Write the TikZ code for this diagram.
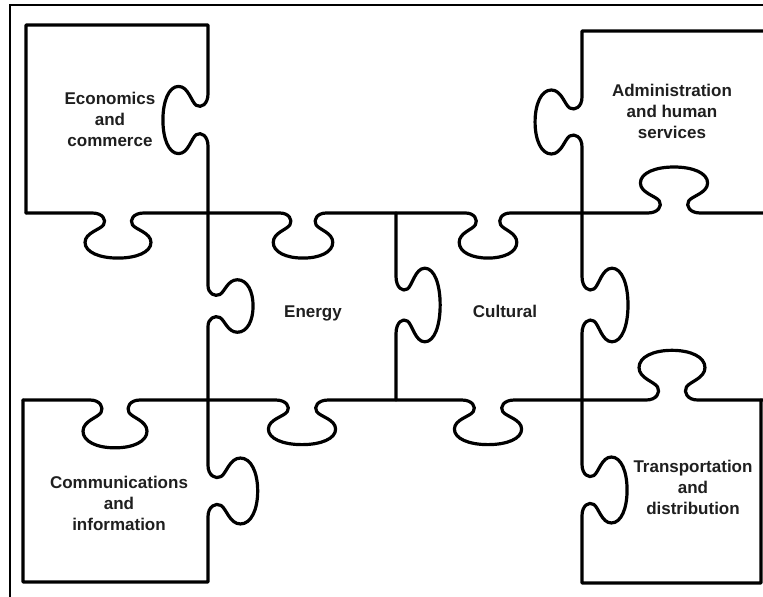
\documentclass[tikz,border=0pt]{standalone}
\usepackage{fontspec}
\setmainfont{Liberation Sans}
\newcommand\hk[5]{%
 -- ({#1-25*#4},{#2})
 .. controls ({#1-15*#4},{#2}) and ({#1-11*#4},{#2+7*#3*#5}) .. ({#1-14*#4},{#2+12*#3*#5})
 .. controls ({#1-17*#4},{#2+17*#3*#5}) and ({#1-32*#4},{#2+20*#3*#5}) .. ({#1-32*#4},{#2+30*#3*#5})
 .. controls ({#1-32*#4},{#2+40*#3*#5}) and ({#1-18*#4},{#2+46*#3*#5}) .. ({#1},{#2+46*#3*#5})
 .. controls ({#1+18*#4},{#2+46*#3*#5}) and ({#1+32*#4},{#2+40*#3*#5}) .. ({#1+32*#4},{#2+30*#3*#5})
 .. controls ({#1+32*#4},{#2+20*#3*#5}) and ({#1+17*#4},{#2+17*#3*#5}) .. ({#1+14*#4},{#2+12*#3*#5})
 .. controls ({#1+11*#4},{#2+7*#3*#5}) and ({#1+15*#4},{#2}) .. ({#1+25*#4},{#2})
}
\newcommand\vk[5]{%
 -- ({#1},{#2-25*#4})
 .. controls ({#1},{#2-15*#4}) and ({#1+7*#3*#5},{#2-11*#4}) .. ({#1+12*#3*#5},{#2-14*#4})
 .. controls ({#1+17*#3*#5},{#2-17*#4}) and ({#1+20*#3*#5},{#2-32*#4}) .. ({#1+30*#3*#5},{#2-32*#4})
 .. controls ({#1+40*#3*#5},{#2-32*#4}) and ({#1+46*#3*#5},{#2-18*#4}) .. ({#1+46*#3*#5},{#2})
 .. controls ({#1+46*#3*#5},{#2+18*#4}) and ({#1+40*#3*#5},{#2+32*#4}) .. ({#1+30*#3*#5},{#2+32*#4})
 .. controls ({#1+20*#3*#5},{#2+32*#4}) and ({#1+17*#3*#5},{#2+17*#4}) .. ({#1+12*#3*#5},{#2+14*#4})
 .. controls ({#1+7*#3*#5},{#2+11*#4}) and ({#1},{#2+15*#4}) .. ({#1},{#2+25*#4})
}
\begin{document}
\begin{tikzpicture}[x=1pt,y=-1pt,
  piece/.style={line width=3.2pt,line cap=round,line join=round,black},
  frameline/.style={line width=1.6pt},
  lbl/.style={font=\fontsize{17}{21}\selectfont\bfseries,text=black!88,align=center,inner sep=0pt}]
\fill[white] (0,0) rectangle (763,597);
\useasboundingbox (0,0) rectangle (763,597);
% outer frame (cropped at right and bottom)
\draw[frameline] (10,597) -- (10,5) -- (763,5);
% left column: economics outline + vertical line x1 + communications outline
\draw[piece] (26,213) -- (26,25) -- (208,25)
  \vk{208}{120}{-1}{1.05}{0.98}
  \vk{208}{306}{1}{0.82}{0.98}
  \vk{208}{491}{1}{1.03}{1.08}
  -- (208,582) -- (23,582) -- (23,400);
% horizontal line y1
\draw[piece] (26,213)
  \hk{118}{213}{1}{1.03}{0.98}
  \hk{303}{213}{1}{0.93}{0.98}
  \hk{488}{213}{1}{0.9}{0.98}
  \hk{674}{213}{-1}{1.05}{1}
  -- (763,213);
% horizontal line y2
\draw[piece] (23,400)
  \hk{115}{400}{1}{1}{1.04}
  \hk{302}{400}{1}{1.05}{0.97}
  \hk{488}{400}{1}{1.05}{0.97}
  \hk{672}{400}{-1}{1.03}{1.08}
  -- (763,400);
% vertical line x2
\draw[piece] (396,213) \vk{396}{305}{1}{1.15}{0.96} -- (396,400);
% right column: administration outline + vertical line x3 + transportation outline
\draw[piece] (763,31) -- (582,31)
  \vk{582}{122}{-1}{1}{1.02}
  \vk{582}{305}{1}{1.15}{1}
  \vk{582}{490}{1}{1.03}{0.98}
  -- (582,583) -- (761,583) -- (761,400);
% labels
\node[lbl] (econ) at (110,119) {Economics\\and\\commerce};
\node[lbl] (admin) at (672,111) {Administration\\and human\\services};
\node[lbl,anchor=base] (energy) at (313,317) {Energy};
\node[lbl,anchor=base] (cultural) at (505,317) {Cultural};
\node[lbl] (comms) at (119,503) {Communications\\and\\information};
\node[lbl] (transport) at (693,487) {Transportation\\and\\distribution};
\end{tikzpicture}
\end{document}
